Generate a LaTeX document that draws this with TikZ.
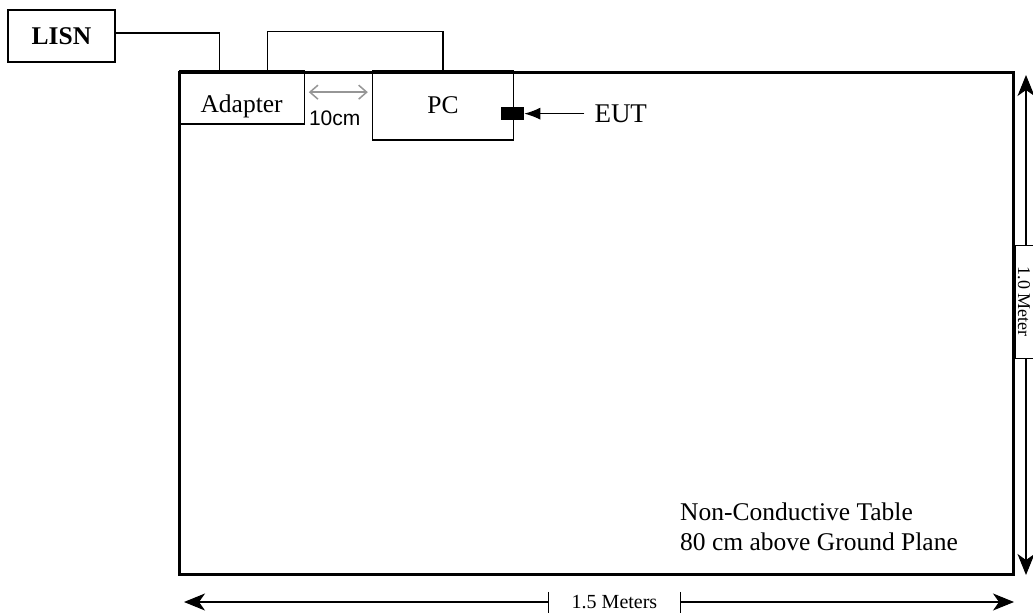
\documentclass[tikz,border=0pt]{standalone}
\usepackage{fontspec}
\setmainfont{Liberation Serif}
\newfontfamily\gapfont{Liberation Sans}
\usetikzlibrary{arrows.meta,positioning}
\definecolor{gapgray}{RGB}{150,150,150}

\begin{document}
\begin{tikzpicture}[
    x=1pt,y=-1pt,
    box/.style={draw,line width=1.3pt,inner sep=0pt},
    txt/.style={font=\fontsize{25.5}{30}\selectfont,inner sep=0pt},
    cable/.style={line width=1.1pt},
    dimarr/.style={{Stealth[length=21pt,width=17pt,inset=6pt]}-{Stealth[length=21pt,width=17pt,inset=6pt]},line width=1.1pt},
    dimlbl/.style={fill=white,inner sep=0pt,font=\fontsize{20}{22}\selectfont}
  ]
  \fill[white] (0,0) rectangle (1033,615);
  \useasboundingbox (0,0) rectangle (1033,615);

  % table and equipment
  \node[draw,line width=3pt,minimum width=834pt,minimum height=501pt] (tbl) at (596,323.5) {};
  \node[box,txt,font=\bfseries\fontsize{25.5}{30}\selectfont,minimum width=107pt,minimum height=52pt] (lisn) at (61.5,36) {LISN};
  \node[box,txt,anchor=north west,minimum width=125pt,minimum height=53pt,text height=29pt,text depth=0pt] (adapter) at ([xshift=1pt,yshift=1pt]tbl.north west) {Adapter};
  \node[box,txt,anchor=north west,minimum width=141pt,minimum height=69pt] (pc) at ([xshift=67pt]adapter.north east) {PC};
  \node[fill=black,minimum width=23pt,minimum height=13pt,inner sep=0pt] (port) at ([xshift=-1.5pt,yshift=-8pt]pc.east) {};
  \node[txt,font=\fontsize{27}{30}\selectfont,right=70pt of port] (eut) {EUT};
  \node[txt,align=left,anchor=north west] (note) at (680,502.5) {Non-Conductive Table\\80 cm above Ground Plane};

  % cables
  \draw[cable] ([yshift=3pt]lisn.east) -| ([xshift=-22.5pt]adapter.north);
  \draw[cable] ([xshift=25.5pt]adapter.north) -- ++(0,-39) -| (pc.north);
  \draw[cable,-{Latex[length=16pt,width=12pt]}] ([xshift=-10pt]eut.west) -- (port.east);

  % 10cm gap
  \coordinate (pcgap) at (adapter.east -| pc.west);
  \draw[gapgray,line width=1.5pt,{Straight Barb[length=8pt,width=14pt]}-{Straight Barb[length=8pt,width=14pt]}]
    ([xshift=4pt,yshift=5.5pt]adapter.east) -- ([xshift=-4pt,yshift=5.5pt]pcgap);
  \node[font=\gapfont\fontsize{21}{24}\selectfont,inner sep=0pt,anchor=base west] (gaplbl) at ([xshift=4pt,yshift=-1pt]adapter.south east) {10cm};

  % dimensions
  \coordinate (vtop) at (1026,75);
  \coordinate (vbot) at (1026,575);
  \draw[dimarr] (vtop) -- (vbot);
  \node[dimlbl,draw,line width=1pt,rotate=-90,minimum width=113pt,minimum height=18pt,font=\fontsize{18}{20}\selectfont] (vlbl) at (1024,301.5) {1.0 Meter};

  \coordinate (hleft) at (184,602);
  \coordinate (hright) at (1014,602);
  \draw[dimarr] (hleft) -- (hright);
  \node[dimlbl,minimum width=131pt,minimum height=21pt] (hlbl) at (614.5,602.5) {1.5 Meters};
  \draw[line width=1pt] (hlbl.north west) -- (hlbl.south west);
  \draw[line width=1pt] (hlbl.north east) -- (hlbl.south east);
\end{tikzpicture}
\end{document}
